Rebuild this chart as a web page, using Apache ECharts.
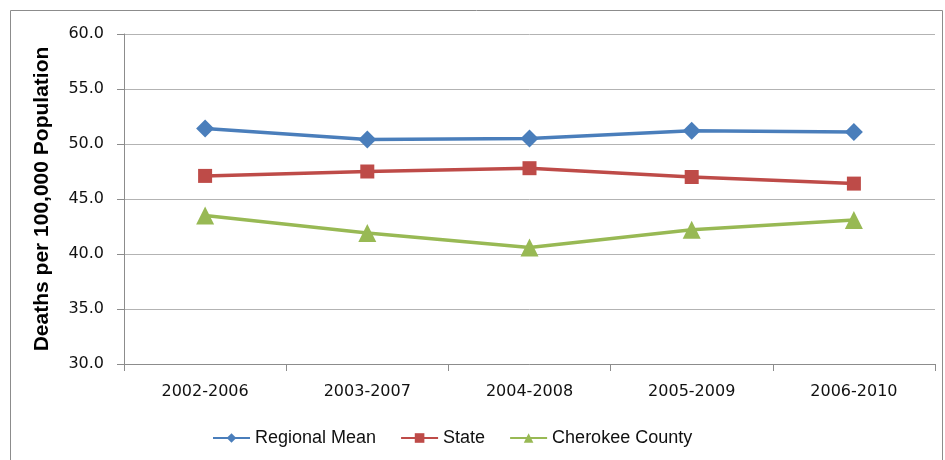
<!DOCTYPE html>
<html>
<head>
<meta charset="utf-8">
<script src="https://cdn.jsdelivr.net/npm/echarts@6/dist/echarts.min.js"></script>
<style>
  html, body { margin: 0; padding: 0; background: #fff; }
  #chart { width: 945px; height: 460px; }
</style>
</head>
<body>
<div id="chart"></div>
<script>
// periods on the x axis
const periods = ['2002-2006', '2003-2007', '2004-2008', '2005-2009', '2006-2010'];
// deaths per 100,000 population
const regionalMean = [51.4, 50.4, 50.5, 51.2, 51.1];
const state = [47.1, 47.5, 47.8, 47.0, 46.4];
const cherokee = [43.5, 41.9, 40.6, 42.2, 43.1];

const chart = echarts.init(document.getElementById('chart'));
const tickFont = 'DejaVu Sans';
const font = 'Liberation Sans';

const option = {
  animation: false,
  textStyle: { fontFamily: font },
  graphic: [
    {
      type: 'rect',
      shape: { x: 10.5, y: 10.5, width: 932, height: 470 },
      style: { fill: 'none', stroke: '#8c8c8c', lineWidth: 1 },
      silent: true
    }
  ],
  grid: { left: 124, right: 10, top: 34, bottom: 96 },
  legend: {
    left: 207,
    top: 424,
    itemWidth: 37,
    itemHeight: 12,
    itemGap: 24,
    textStyle: { fontFamily: font, fontSize: 18, color: '#111' },
    data: ['Regional Mean', 'State', 'Cherokee County']
  },
  xAxis: {
    type: 'category',
    data: periods,
    boundaryGap: true,
    axisLine: { lineStyle: { color: '#8c8c8c' } },
    axisTick: { show: true, length: 7, lineStyle: { color: '#8c8c8c' } },
    axisLabel: { fontFamily: tickFont, fontSize: 16, color: '#111', margin: 20 }
  },
  yAxis: {
    type: 'value',
    min: 30,
    max: 60,
    interval: 5,
    name: 'Deaths per 100,000 Population',
    nameLocation: 'middle',
    nameGap: 71,
    nameTextStyle: { fontFamily: font, fontSize: 21, fontWeight: 'bold', color: '#000' },
    axisLine: { show: true, lineStyle: { color: '#8c8c8c' } },
    axisTick: { show: true, length: 7, lineStyle: { color: '#8c8c8c' } },
    axisLabel: {
      fontFamily: tickFont, fontSize: 16, color: '#111', margin: 20,
      formatter: v => v.toFixed(1)
    },
    splitLine: { lineStyle: { color: '#b3b3b3' } }
  },
  series: [
    {
      name: 'Regional Mean',
      type: 'line',
      data: regionalMean,
      symbol: 'diamond',
      symbolSize: 18,
      itemStyle: { color: '#4a7ebb' },
      lineStyle: { width: 3.5, color: '#4a7ebb' }
    },
    {
      name: 'State',
      type: 'line',
      data: state,
      symbol: 'rect',
      symbolSize: 14,
      itemStyle: { color: '#be4b48' },
      lineStyle: { width: 3.5, color: '#be4b48' }
    },
    {
      name: 'Cherokee County',
      type: 'line',
      data: cherokee,
      symbol: 'triangle',
      symbolSize: 18,
      itemStyle: { color: '#98b954' },
      lineStyle: { width: 3.5, color: '#98b954' }
    }
  ]
};

chart.setOption(option);
</script>
</body>
</html>
